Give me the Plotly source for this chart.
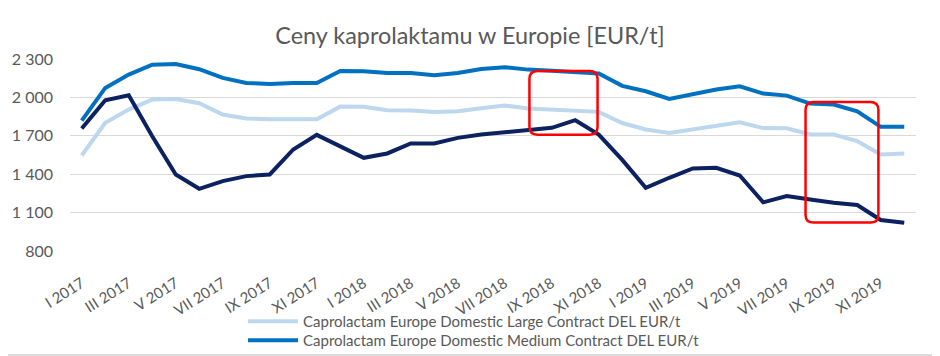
import plotly.graph_objects as go

months = ["I", "II", "III", "IV", "V", "VI", "VII", "VIII", "IX", "X", "XI", "XII"]
years = ["2017", "2018", "2019"]
categories = [f"{m} {y}" for y in years for m in months]
tick_labels = [c for i, c in enumerate(categories) if i % 2 == 0]

y_ticks = [800, 1100, 1400, 1700, 2000, 2300]
y_tick_text = ["800", "1 100", "1 400", "1 700", "2 000", "2 300"]

large = [1546, 1801, 1905, 1983, 1988, 1955, 1866, 1835, 1829, 1829, 1829, 1928,
         1926, 1900, 1897, 1885, 1892, 1915, 1937, 1913, 1905, 1897, 1887, 1800,
         1749, 1723, 1749, 1780, 1806, 1760, 1759, 1710, 1710, 1658, 1554, 1562]
medium = [1819, 2074, 2178, 2256, 2261, 2220, 2152, 2113, 2105, 2113, 2113, 2206,
          2204, 2191, 2191, 2173, 2191, 2222, 2236, 2217, 2209, 2196, 2186, 2090,
          2048, 1988, 2027, 2061, 2087, 2030, 2014, 1952, 1944, 1892, 1770, 1770]
dark = [1757, 1978, 2017, 1697, 1398, 1286, 1346, 1385, 1398, 1593, 1707, 1620,
        1528, 1562, 1640, 1640, 1684, 1710, 1726, 1749, 1762, 1822, 1710, 1512,
        1294, 1372, 1445, 1450, 1390, 1180, 1229, 1203, 1177, 1159, 1042, 1021]

series_names = ["Caprolactam Europe Domestic Large Contract DEL EUR/t",
                "Caprolactam Europe Domestic Medium Contract DEL EUR/t",
                "Caprolactam Europe"]
colors = ["#BDD7EE", "#0070C0", "#0C2260"]
legend_ids = ["legend", "legend2", None]

# highlighted regions (category index range, value range)
boxes = [(19.05, 21.95, 1708, 2207), (30.8, 33.9, 1022, 1965)]

FONT = "Lato"
W, H = 932, 348          # page body has an 8px margin
L, T, PW, PH = 62, 51, 846, 192

fig = go.Figure()
for name, vals, col, lg in zip(series_names, [large, medium, dark], colors, legend_ids):
    kw = dict(legend=lg) if lg else dict(showlegend=False)
    fig.add_trace(go.Scatter(x=categories, y=vals, mode="lines", name=name,
                             line=dict(color=col, width=4), **kw))

shapes = []
for x0, x1, y0, y1 in boxes:
    rx, ry = 0.35, 62
    path = (f"M {x0+rx},{y0} L {x1-rx},{y0} Q {x1},{y0} {x1},{y0+ry} "
            f"L {x1},{y1-ry} Q {x1},{y1} {x1-rx},{y1} L {x0+rx},{y1} "
            f"Q {x0},{y1} {x0},{y1-ry} L {x0},{y0+ry} Q {x0},{y0} {x0+rx},{y0} Z")
    shapes.append(dict(type="path", path=path, xref="x", yref="y",
                       line=dict(color="#FF0000", width=2.5)))
# outer chart frame (right and bottom edges are inside the drawable area)
fx_right = (927 - L) / PW
fy_bottom = (T + PH - 347) / PH
shapes.append(dict(type="line", xref="paper", yref="paper", x0=fx_right, x1=fx_right,
                   y0=fy_bottom, y1=(T + PH) / PH, line=dict(color="#D0D0D0", width=1.5)))
shapes.append(dict(type="line", xref="paper", yref="paper", x0=-L / PW, x1=fx_right,
                   y0=fy_bottom, y1=fy_bottom, line=dict(color="#D0D0D0", width=1.5)))

legend_style = dict(orientation="v", x=0.2045, xanchor="left", yref="container", yanchor="top",
                    font=dict(size=15, color="#595959"), bgcolor="rgba(0,0,0,0)",
                    itemwidth=50)

fig.update_layout(
    width=W, height=H,
    margin=dict(l=L, r=W - L - PW, t=T, b=H - T - PH, autoexpand=False),
    paper_bgcolor="white", plot_bgcolor="white",
    font=dict(family=FONT, color="#595959", size=14),
    title=dict(text="Ceny kaprolaktamu w Europie [EUR/t]", x=462 / W, xanchor="center",
               yref="container", y=1 - 28 / H, yanchor="middle",
               font=dict(size=23.4, color="#595959", family=FONT)),
    xaxis=dict(type="category", range=[-0.5, 35.5], tickvals=tick_labels, ticktext=tick_labels,
               tickangle=-32, showgrid=False, showline=False, zeroline=False, automargin=False,
               tickfont=dict(size=15, color="#595959"), ticks="", ticklabelstandoff=20),
    yaxis=dict(range=[800, 2300], tickvals=y_ticks, ticktext=y_tick_text, automargin=False,
               showgrid=True, gridcolor="#D9D9D9", gridwidth=1.3, zeroline=False,
               showline=False, ticks="", ticklabelstandoff=16,
               tickfont=dict(size=16, color="#595959")),
    legend=dict(y=1 - 297 / H, **legend_style),
    legend2=dict(y=1 - 316 / H, **legend_style),
    shapes=shapes,
    showlegend=True,
)

fig.write_html("out.html")
